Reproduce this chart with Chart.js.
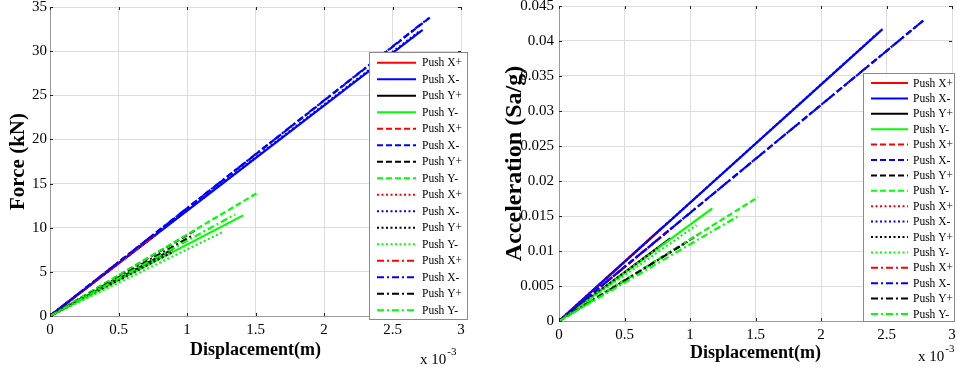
<!DOCTYPE html>
<html>
<head>
<meta charset="utf-8">
<script src="https://cdn.jsdelivr.net/npm/chart.js@4.4.1/dist/chart.umd.min.js"></script>
<style>
  body { margin: 0; background: #fff; }
  .box { position: absolute; top: 0; height: 367px; }
</style>
</head>
<body>
<div class="box" style="left:0;width:478px"><canvas id="force"></canvas></div>
<div class="box" style="left:480px;width:477px"><canvas id="accel"></canvas></div>
<script>
// series: 4 line styles x 4 load cases
const seriesLabels = ['Push X+', 'Push X-', 'Push Y+', 'Push Y-',
                      'Push X+', 'Push X-', 'Push Y+', 'Push Y-',
                      'Push X+', 'Push X-', 'Push Y+', 'Push Y-',
                      'Push X+', 'Push X-', 'Push Y+', 'Push Y-'];
const seriesColors = ['#ff0000', '#0000ff', '#000000', '#00ff00'];
const seriesDashes = [[], [6, 3], [2, 2.5], [7, 3, 2, 3]];

// end points (displacement in 1e-3 m), every curve starts at 0,0
const forceEndX = [0.78, 2.72, 0.90, 1.41,
                   0.80, 2.78, 1.07, 1.52,
                   0.72, 2.70, 0.90, 1.26,
                   0.76, 2.76, 1.05, 1.35];
const forceEndY = [9.3, 32.4, 7.6, 11.4,
                   9.7, 33.9, 9.8, 14.0,
                   8.6, 32.3, 7.3, 9.5,
                   9.1, 33.7, 9.2, 11.5];

const accelEndX = [0.79, 2.47, 0.85, 1.17,
                   0.87, 2.78, 1.06, 1.52,
                   0.75, 2.45, 0.75, 1.05,
                   0.85, 2.78, 0.98, 1.36];
const accelEndY = [0.0134, 0.0417, 0.0118, 0.0161,
                   0.0134, 0.0429, 0.0123, 0.0177,
                   0.0127, 0.0414, 0.0104, 0.0137,
                   0.0131, 0.0429, 0.0113, 0.0149];

const xTicks = [0, 0.5, 1, 1.5, 2, 2.5, 3];

function buildDatasets(endX, endY) {
    return seriesLabels.map((label, i) => ({
        label: label,
        data: [{x: 0, y: 0}, {x: endX[i], y: endY[i]}],
        borderColor: seriesColors[i % 4],
        borderDash: seriesDashes[Math.floor(i / 4)],
        borderWidth: 2.2,
        pointRadius: 0,
        tension: 0,
        order: 16 - i
    }));
}

// legend box drawn inside the axes, MATLAB style
const boxLegend = {
    id: 'boxLegend',
    afterDraw(chart, args, opts) {
        const ctx = chart.ctx;
        ctx.save();
        ctx.fillStyle = '#fff';
        ctx.fillRect(opts.x, opts.y, opts.w, opts.h);
        ctx.strokeStyle = '#8a8a8a';
        ctx.lineWidth = 1;
        ctx.strokeRect(opts.x + 0.5, opts.y + 0.5, opts.w, opts.h);
        ctx.font = '11.5px "Liberation Serif"';
        ctx.textBaseline = 'middle';
        chart.data.datasets.forEach((ds, i) => {
            const y = opts.first + i * opts.step;
            ctx.strokeStyle = ds.borderColor;
            ctx.lineWidth = 2;
            ctx.setLineDash(ds.borderDash);
            ctx.beginPath();
            ctx.moveTo(opts.lineX0, y);
            ctx.lineTo(opts.lineX1, y);
            ctx.stroke();
            ctx.setLineDash([]);
            ctx.fillStyle = '#000';
            ctx.fillText(ds.label, opts.textX, y + 0.5);
        });
        ctx.restore();
    }
};

// small inward tick marks on all four sides plus the exponent note
const axesExtras = {
    id: 'axesExtras',
    afterDatasetsDraw(chart, args, opts) {
        const ctx = chart.ctx;
        const a = chart.chartArea;
        const xs = chart.scales.x, ys = chart.scales.y;
        ctx.save();
        ctx.strokeStyle = '#222';
        ctx.lineWidth = 1;
        ctx.beginPath();
        xs.ticks.forEach(t => {
            const px = Math.round(xs.getPixelForValue(t.value)) + 0.5;
            ctx.moveTo(px, a.top); ctx.lineTo(px, a.top + 3);
            ctx.moveTo(px, a.bottom); ctx.lineTo(px, a.bottom - 3);
        });
        ys.ticks.forEach(t => {
            const py = Math.round(ys.getPixelForValue(t.value)) + 0.5;
            ctx.moveTo(a.left, py); ctx.lineTo(a.left + 3, py);
            ctx.moveTo(a.right, py); ctx.lineTo(a.right - 3, py);
        });
        ctx.stroke();
        ctx.restore();
    },
    afterDraw(chart, args, opts) {
        const ctx = chart.ctx;
        ctx.save();
        ctx.fillStyle = '#000';
        ctx.textBaseline = 'alphabetic';
        ctx.font = '15px "Liberation Serif"';
        ctx.fillText('x 10', opts.x, opts.y);
        const w = ctx.measureText('x 10').width;
        ctx.font = '11px "Liberation Serif"';
        ctx.fillText('-3', opts.x + w + 1, opts.y - 9);
        ctx.restore();
    }
};

function makeChart(id, endX, endY, cfg) {
    return new Chart(document.getElementById(id), {
        type: 'line',
        data: { datasets: buildDatasets(endX, endY) },
        options: {
            responsive: true,
            maintainAspectRatio: false,
            animation: false,
            layout: { padding: { top: cfg.padTop, right: cfg.padRight, left: 0, bottom: 0 } },
            plugins: {
                legend: { display: false },
                tooltip: { enabled: false },
                boxLegend: cfg.legend,
                axesExtras: cfg.note
            },
            scales: {
                x: {
                    type: 'linear',
                    min: 0, max: 3,
                    afterBuildTicks: s => { s.ticks = xTicks.map(v => ({value: v})); },
                    afterFit: s => { s.height = cfg.xHeight; s.paddingLeft = 0; s.paddingRight = 0; },
                    ticks: {
                        color: '#000',
                        padding: 5,
                        maxRotation: 0,
                        font: { family: 'Liberation Serif', size: 15 },
                        callback: v => String(v)
                    },
                    grid: { color: '#dcdcdc', drawTicks: false },
                    border: { color: '#9a9a9a' },
                    title: {
                        display: true,
                        text: 'Displacement(m)',
                        color: '#000',
                        padding: { top: 0, bottom: cfg.xTitlePad },
                        font: { family: 'Liberation Serif', size: 18, weight: 'bold' }
                    }
                },
                y: {
                    type: 'linear',
                    min: 0, max: cfg.yMax,
                    afterBuildTicks: s => { s.ticks = cfg.yTicks.map(v => ({value: v})); },
                    afterFit: s => { s.width = cfg.yWidth; s.paddingTop = 0; s.paddingBottom = 0; },
                    ticks: {
                        color: '#000',
                        padding: cfg.yTickPad,
                        font: { family: 'Liberation Serif', size: 15 },
                        callback: v => String(+v.toFixed(4))
                    },
                    grid: { color: '#dcdcdc', drawTicks: false },
                    border: { color: '#9a9a9a' },
                    title: {
                        display: true,
                        text: cfg.yTitle,
                        color: '#000',
                        padding: { top: cfg.yTitlePad, bottom: 0 },
                        font: { family: 'Liberation Serif', size: cfg.yTitleSize, weight: 'bold' }
                    }
                }
            }
        },
        plugins: [boxLegend, axesExtras]
    });
}

makeChart('force', forceEndX, forceEndY, {
    yMax: 35,
    yTicks: [0, 5, 10, 15, 20, 25, 30, 35],
    yTitle: 'Force (kN)',
    yTitleSize: 21,
    padTop: 7, padRight: 17,
    xHeight: 51, yWidth: 50,
    yTickPad: 3, xTitlePad: 6, yTitlePad: 6,
    legend: { x: 369, y: 52, w: 98, h: 267, first: 62.7, step: 16.5, lineX0: 377, lineX1: 416, textX: 422 },
    note: { x: 420, y: 364 }
});

makeChart('accel', accelEndX, accelEndY, {
    yMax: 0.045,
    yTicks: [0, 0.005, 0.01, 0.015, 0.02, 0.025, 0.03, 0.035, 0.04, 0.045],
    yTitle: 'Acceleration (Sa/g)',
    yTitleSize: 24,
    padTop: 6, padRight: 5,
    xHeight: 46, yWidth: 79,
    yTickPad: 5, xTitlePad: 3, yTitlePad: 20,
    legend: { x: 383, y: 73, w: 91, h: 248, first: 83, step: 15.4, lineX0: 391, lineX1: 428, textX: 433 },
    note: { x: 438, y: 361 }
});
</script>
</body>
</html>
